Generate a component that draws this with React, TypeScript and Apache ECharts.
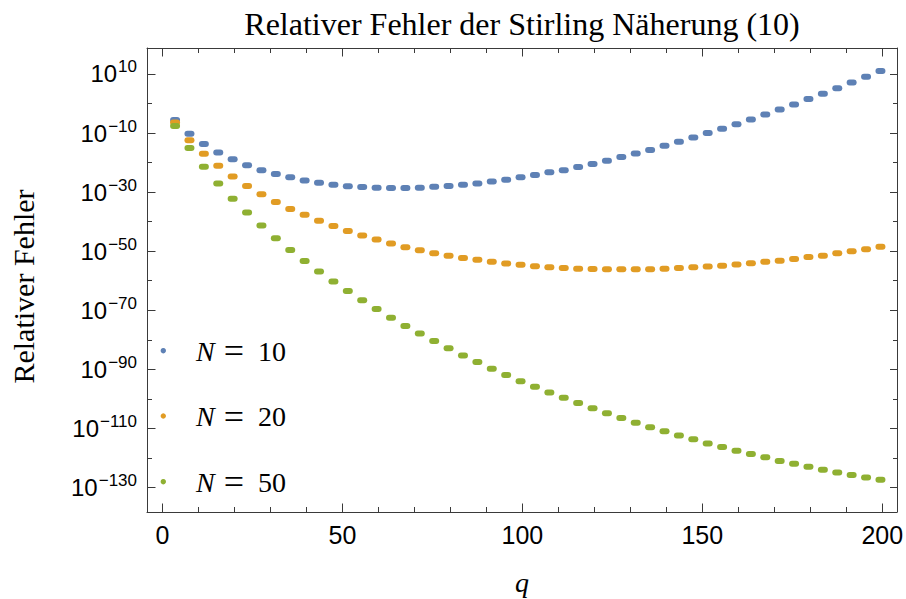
import React, { useEffect, useRef } from "react";
import * as echarts from "echarts";

// q positions (centres of the plotted point pairs)
const qValues = [
  3.5, 7.5, 11.5, 15.5, 19.5, 23.5, 27.5, 31.5, 35.5, 39.5,
  43.5, 47.5, 51.5, 55.5, 59.5, 63.5, 67.5, 71.5, 75.5, 79.5,
  83.5, 87.5, 91.5, 95.5, 99.5, 103.5, 107.5, 111.5, 115.5, 119.5,
  123.5, 127.5, 131.5, 135.5, 139.5, 143.5, 147.5, 151.5, 155.5, 159.5,
  163.5, 167.5, 171.5, 175.5, 179.5, 183.5, 187.5, 191.5, 195.5, 199.5,
];

// log10 of the relative error
const errN10 = [
  -5.6, -10.2, -13.7, -16.6, -18.9, -20.9, -22.6, -23.9, -25.0, -26.1,
  -26.8, -27.5, -28.0, -28.3, -28.5, -28.6, -28.6, -28.5, -28.2, -27.9,
  -27.5, -27.1, -26.4, -25.8, -25.0, -24.2, -23.3, -22.6, -21.5, -20.5,
  -19.4, -18.1, -16.9, -15.7, -14.3, -12.9, -11.5, -10.0, -8.5, -7.0,
  -5.4, -3.7, -2.0, -0.3, 1.5, 3.3, 5.2, 7.1, 9.1, 11.0,
];
const errN20 = [
  -6.4, -12.4, -17.0, -21.1, -24.7, -27.9, -30.7, -33.3, -35.7, -37.7,
  -39.7, -41.5, -43.2, -44.7, -46.0, -47.4, -48.7, -49.7, -50.7, -51.5,
  -52.3, -52.9, -53.6, -54.2, -54.6, -55.1, -55.4, -55.7, -55.9, -56.0,
  -56.1, -56.1, -56.1, -56.1, -55.9, -55.7, -55.4, -55.2, -54.9, -54.5,
  -54.1, -53.6, -53.2, -52.6, -52.0, -51.5, -50.7, -50.0, -49.3, -48.5,
];
const errN50 = [
  -7.6, -15.1, -21.4, -27.1, -32.2, -36.9, -41.3, -45.6, -49.6, -53.3,
  -56.9, -60.3, -63.5, -66.6, -69.6, -72.5, -75.3, -77.9, -80.4, -82.9,
  -85.3, -87.5, -89.8, -91.9, -94.0, -95.9, -97.8, -99.6, -101.4, -103.2,
  -104.9, -106.5, -108.1, -109.6, -111.0, -112.4, -113.7, -115.1, -116.3, -117.6,
  -118.7, -119.8, -121.0, -122.0, -123.0, -124.0, -124.9, -125.8, -126.6, -127.4,
];

const seriesValues = [errN10, errN20, errN50];
const seriesNums = ["10", "20", "50"];
const seriesColors = ["#5E81B5", "#E19C24", "#8FB032"];

const xMajorTicks = [0, 50, 100, 150, 200];
const xMinorTicks = [10, 20, 30, 40, 60, 70, 80, 90, 110, 120, 130, 140, 160, 170, 180, 190];
const yMajorTicks = [-130, -110, -90, -70, -50, -30, -10, 10];
const yMinorTicks = [-120, -100, -80, -60, -40, -20, 0];

const titleText = "Relativer Fehler der Stirling Näherung (10)";
const yName = "Relativer Fehler";
const xName = "q";

const X_MIN = -4.3;
const X_MAX = 204.1;
const Y_MIN = -138.3;
const Y_MAX = 18.8;

const FRAME = "#3a3a3a";
const SANS = "'Liberation Sans', Arial, Helvetica, sans-serif";
const SERIF = "'Liberation Serif', 'Times New Roman', serif";
const CAPSULE = "path://M3,0L7,0A3,3,0,0,1,7,6L3,6A3,3,0,0,1,3,0Z";

function tickAxis(kind: "x" | "y", position: string, ticks: number[], len: number, line: boolean) {
  return {
    type: "value",
    position,
    min: kind === "x" ? X_MIN : Y_MIN,
    max: kind === "x" ? X_MAX : Y_MAX,
    splitLine: { show: false },
    axisLine: { show: line, onZero: false, lineStyle: { color: FRAME, width: 1 } },
    axisTick: { show: true, inside: true, length: len, customValues: ticks, lineStyle: { color: FRAME, width: 1 } },
    axisLabel: { show: false },
  };
}

export default function App() {
  const ref = useRef<HTMLDivElement>(null);

  useEffect(() => {
    if (!ref.current) return;
    const chart = echarts.init(ref.current, null, { renderer: "svg" });

    const legendY = [350.7, 416, 481.7];
    const graphic: any[] = [
      {
        type: "text",
        x: 522,
        y: 23.5,
        style: {
          text: titleText,
          font: `32px ${SERIF}`,
          fill: "#000",
          align: "center",
          verticalAlign: "middle",
        },
      },
      {
        type: "text",
        x: 23,
        y: 286.5,
        rotation: Math.PI / 2,
        style: {
          text: yName,
          font: `30px ${SERIF}`,
          fill: "#000",
          align: "center",
          verticalAlign: "middle",
        },
      },
      {
        type: "text",
        x: 522,
        y: 582,
        style: {
          text: xName,
          font: `italic 28px ${SERIF}`,
          fill: "#000",
          align: "center",
          verticalAlign: "middle",
        },
      },
    ];
    seriesNums.forEach((n, i) => {
      graphic.push({
        type: "circle",
        shape: { cx: 163.3, cy: legendY[i], r: 2.7 },
        style: { fill: seriesColors[i] },
      });
      graphic.push({
        type: "text",
        x: 196,
        y: legendY[i] + 0.5,
        style: {
          text: `{n|N}{e|=}{v|${n}}`,
          verticalAlign: "middle",
          align: "left",
          fill: "#000",
          rich: {
            n: { fontFamily: SERIF, fontSize: 28, fontStyle: "italic", fill: "#000" },
            e: { fontFamily: SERIF, fontSize: 36, fill: "#000", padding: [0, 14, 0, 9] },
            v: { fontFamily: SERIF, fontSize: 28, fill: "#000" },
          },
        },
      });
    });

    const option: any = {
      animation: false,
      grid: { left: 147, top: 48, right: 9, bottom: 87, containLabel: false, outerBoundsMode: "none" },
      xAxis: [
        {
          type: "value",
          position: "bottom",
          min: X_MIN,
          max: X_MAX,
          splitLine: { show: false },
          axisLine: { show: true, onZero: false, lineStyle: { color: FRAME, width: 1 } },
          axisTick: { show: true, inside: true, length: 8.5, customValues: xMajorTicks, lineStyle: { color: FRAME } },
          axisLabel: {
            show: true,
            customValues: xMajorTicks,
            margin: 10,
            fontFamily: SANS,
            fontSize: 25,
            color: "#000",
          },
        },
        tickAxis("x", "bottom", xMinorTicks, 5, false),
        tickAxis("x", "top", xMajorTicks, 8.5, true),
        tickAxis("x", "top", xMinorTicks, 5, false),
      ],
      yAxis: [
        {
          type: "value",
          position: "left",
          min: Y_MIN,
          max: Y_MAX,
          splitLine: { show: false },
          axisLine: { show: true, onZero: false, lineStyle: { color: FRAME, width: 1 } },
          axisTick: { show: true, inside: true, length: 8.5, customValues: yMajorTicks, lineStyle: { color: FRAME } },
          axisLabel: {
            show: true,
            customValues: yMajorTicks,
            margin: 10,
            formatter: (v: number) => `{b|10}{s|${v < 0 ? "\u2212" + Math.abs(v) : String(v)}}`,
            rich: {
              b: { fontFamily: SANS, fontSize: 24, color: "#000" },
              s: { fontFamily: SANS, fontSize: 17, color: "#000", padding: [0, 0, 14, 1] },
            },
          },
        },
        tickAxis("y", "left", yMinorTicks, 5, false),
        tickAxis("y", "right", yMajorTicks, 7, true),
        tickAxis("y", "right", yMinorTicks, 4, false),
      ],
      series: seriesValues.map((vals, i) => ({
        type: "scatter",
        name: `N = ${seriesNums[i]}`,
        xAxisIndex: 0,
        yAxisIndex: 0,
        symbol: CAPSULE,
        symbolSize: [10, 6],
        itemStyle: { color: seriesColors[i], opacity: 1 },
        data: qValues.map((q, j) => [q, vals[j]]),
      })),
      graphic,
    };

    chart.setOption(option);
    return () => chart.dispose();
  }, []);

  return (
    <div
      ref={ref}
      style={{ position: "fixed", left: 0, top: 0, width: 906, height: 599, background: "#fff" }}
    />
  );
}
